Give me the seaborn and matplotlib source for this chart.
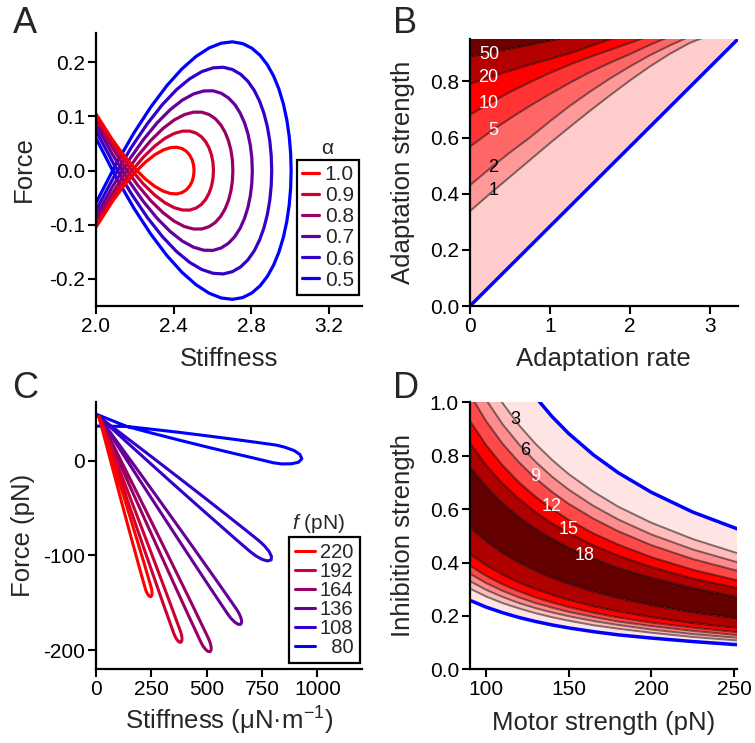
import matplotlib
matplotlib.use("Agg")
import matplotlib.pyplot as plt
import seaborn as sns
from matplotlib.lines import Line2D

sns.set_theme(style="ticks")
plt.rcParams["font.family"] = ["Liberation Sans", "DejaVu Sans"]
plt.rcParams["axes.unicode_minus"] = False
plt.rcParams["mathtext.fontset"] = "custom"
plt.rcParams["mathtext.rm"] = "Liberation Sans"
plt.rcParams["mathtext.it"] = "Liberation Sans:italic"

# ---------------- Panel A data (branch through the upper loop, tip -> left edge) ----------------
a_alpha = ["1.0", "0.9", "0.8", "0.7", "0.6", "0.5"]
a10_x = [2.505, 2.5025, 2.495, 2.4825, 2.465, 2.4425, 2.415, 2.3825, 2.345, 2.3025, 2.255, 2.2025, 2.145, 2.0825, 2.0]
a10_y = [0, 0.0102, 0.0200, 0.0286, 0.0357, 0.0407, 0.0431, 0.0423, 0.0378, 0.0291, 0.0158, -0.0029, -0.0273, -0.0580, -0.1045]
a09_x = [2.605, 2.6025, 2.595, 2.5825, 2.565, 2.5425, 2.515, 2.4825, 2.445, 2.4025, 2.355, 2.3025, 2.245, 2.1825, 2.115, 2.0425, 2.0]
a09_y = [0, 0.0146, 0.0287, 0.0417, 0.0532, 0.0626, 0.0693, 0.0729, 0.0728, 0.0685, 0.0595, 0.0452, 0.0252, -0.0011, -0.0343, -0.0748, -0.1007]
a08_x = [2.705, 2.7025, 2.695, 2.6825, 2.665, 2.6425, 2.615, 2.5825, 2.545, 2.5025, 2.455, 2.4025, 2.345, 2.2825, 2.215, 2.1425, 2.065, 2.0]
a08_y = [0, 0.0190, 0.0375, 0.0549, 0.0707, 0.0844, 0.0956, 0.1035, 0.1078, 0.1079, 0.1033, 0.0934, 0.0777, 0.0557, 0.0270, -0.0092, -0.0532, -0.0940]
a07_x = [2.805, 2.8025, 2.795, 2.7825, 2.765, 2.7425, 2.715, 2.6825, 2.645, 2.6025, 2.555, 2.5025, 2.445, 2.3825, 2.315, 2.2425, 2.165, 2.0825, 2.0]
a07_y = [0, 0.0234, 0.0462, 0.0680, 0.0882, 0.1063, 0.1218, 0.1341, 0.1428, 0.1473, 0.1470, 0.1415, 0.1302, 0.1126, 0.0882, 0.0564, 0.0168, -0.0312, -0.0848]
a06_x = [2.905, 2.9025, 2.895, 2.8825, 2.865, 2.8425, 2.815, 2.7825, 2.745, 2.7025, 2.655, 2.6025, 2.545, 2.4825, 2.415, 2.3425, 2.265, 2.1825, 2.095, 2.0]
a06_y = [0, 0.0277, 0.0550, 0.0811, 0.1057, 0.1282, 0.1481, 0.1648, 0.1778, 0.1866, 0.1908, 0.1896, 0.1827, 0.1695, 0.1495, 0.1221, 0.0868, 0.0431, -0.0095, -0.0733]
a05_x = [3.005, 3.0025, 2.995, 2.9825, 2.965, 2.9425, 2.915, 2.8825, 2.845, 2.8025, 2.755, 2.7025, 2.645, 2.5825, 2.515, 2.4425, 2.365, 2.2825, 2.195, 2.1025, 2.0]
a05_y = [0, 0.0321, 0.0637, 0.0942, 0.1232, 0.1501, 0.1743, 0.1954, 0.2128, 0.2260, 0.2345, 0.2377, 0.2352, 0.2264, 0.2107, 0.1877, 0.1568, 0.1175, 0.0693, 0.0116, -0.0597]

# ---------------- Panel B data (contour lines on a common x grid) ----------------
b_x = [0, 0.25, 0.5, 0.75, 1.0, 1.25, 1.5, 1.75, 2.0, 2.25, 2.5, 2.75, 3.0]
b_c1 = [0.338, 0.40, 0.46, 0.52, 0.58, 0.638, 0.695, 0.75, 0.803, 0.853, 0.898, 0.937, 0.965]
b_c2 = [0.43, 0.49, 0.547, 0.60, 0.658, 0.713, 0.763, 0.81, 0.853, 0.893, 0.928, 0.96, 0.99]
b_c5 = [0.568, 0.62, 0.668, 0.713, 0.755, 0.795, 0.833, 0.866, 0.897, 0.93, 0.96, 0.99, 1.02]
b_c10 = [0.681, 0.723, 0.762, 0.797, 0.83, 0.86, 0.887, 0.912, 0.937, 0.962, 0.985, 1.01, 1.03]
b_c20 = [0.791, 0.815, 0.838, 0.86, 0.88, 0.90, 0.925, 0.95, 0.97, 0.99, 1.01, 1.03, 1.05]
b_c50 = [0.888, 0.902, 0.916, 0.93, 0.945, 0.96, 0.975, 0.99, 1.0, 1.01, 1.02, 1.03, 1.04]
b_hopf_x = [0, 3.35]
b_hopf_y = [0, 0.95]
b_labels = ["1", "2", "5", "10", "20", "50"]
b_label_x = [0.29, 0.29, 0.29, 0.24, 0.23, 0.24]
b_label_y = [0.41, 0.493, 0.624, 0.723, 0.815, 0.897]

# ---------------- Panel C data (petal edges, start -> tip) ----------------
c_force = ["220", "192", "164", "136", "108", "  80"]
c80_a_x = [0, 139.4, 259.0, 379.1, 499.0, 618.8, 714.5, 813.5, 853.5, 894.7, 920.9, 929.5]
c80_a_y = [36.3, 35.9, 32.8, 29.6, 26.1, 22.5, 19.5, 16.3, 14.0, 10.5, 6.4, 1.8]
c80_b_x = [0, 139.4, 255.7, 372.8, 490.2, 607.6, 701.7, 802.0, 839.6, 883.7, 914.5, 929.5]
c80_b_y = [48.9, 35.9, 28.7, 21.7, 14.9, 8.3, 3.2, -2.4, -3.6, -3.4, -1.8, 1.8]
c108_a_x = [13.6, 134.6, 255.2, 375.5, 495.3, 590.8, 670.1, 738.0, 760.9, 781.7, 792.3, 791.1]
c108_a_y = [46.1, 24.7, 3.2, -18.4, -40.1, -57.6, -72.2, -84.9, -89.9, -95.8, -100.9, -104.7]
c108_b_x = [13.6, 125.7, 238.2, 351.2, 464.5, 555.6, 631.7, 697.5, 722.7, 751.6, 774.6, 791.1]
c108_b_y = [46.1, 22.2, -1.5, -25.2, -48.7, -67.4, -83.0, -96.2, -100.6, -104.3, -105.8, -104.7]
c136_a_x = [13.6, 113.7, 213.5, 312.9, 411.9, 490.8, 556.3, 634.1, 645.8, 655.0, 658.2, 653.6]
c136_a_y = [46.1, 13.9, -18.2, -50.5, -82.8, -108.8, -130.4, -156.5, -161.0, -166.0, -170.0, -172.6]
c136_b_x = [13.6, 105.5, 197.8, 290.5, 383.6, 458.3, 520.9, 596.8, 610.7, 627.2, 641.9, 653.6]
c136_b_y = [46.1, 12.6, -20.8, -54.1, -87.4, -113.9, -136.0, -162.4, -166.6, -170.4, -172.6, -172.6]
c164_a_x = [13.6, 92.6, 171.3, 249.6, 327.6, 389.6, 441.2, 508.1, 515.1, 519.8, 520.2, 515.1]
c164_a_y = [46.1, 9.4, -27.4, -64.2, -101.0, -130.5, -155.1, -187.6, -191.7, -196.1, -199.4, -201.5]
c164_b_x = [13.6, 85.0, 156.8, 229.0, 301.5, 359.8, 408.6, 473.7, 482.7, 494.2, 505.2, 515.1]
c164_b_y = [46.1, 8.5, -29.0, -66.5, -103.9, -133.8, -158.7, -191.4, -195.3, -198.9, -201.1, -201.5]
c192_a_x = [13.6, 72.2, 130.5, 188.6, 246.4, 292.3, 330.4, 381.4, 386.0, 388.4, 387.6, 382.6]
c192_a_y = [46.1, 10.7, -24.7, -60.1, -95.5, -123.9, -147.6, -179.9, -183.4, -187.2, -190.0, -191.6]
c192_b_x = [13.6, 65.7, 118.1, 170.8, 223.8, 266.4, 302.2, 351.7, 358.0, 366.3, 374.7, 382.6]
c192_b_y = [46.1, 10.2, -25.7, -61.6, -97.5, -126.1, -150.0, -182.4, -185.8, -189.0, -191.1, -191.6]
c220_a_x = [13.6, 51.5, 89.1, 126.5, 163.6, 193.1, 217.5, 249.0, 252.0, 253.1, 251.7, 247.1]
c220_a_y = [46.1, 17.9, -10.4, -38.7, -67.0, -89.6, -108.5, -133.5, -136.6, -139.8, -142.2, -143.5]
c220_b_x = [13.6, 45.7, 78.2, 110.9, 143.8, 170.4, 192.8, 222.9, 227.4, 233.7, 240.4, 247.1]
c220_b_y = [46.1, 17.5, -11.1, -39.7, -68.3, -91.1, -110.2, -135.2, -138.2, -141.1, -142.9, -143.5]

# ---------------- Panel D data (contour lines on a common x grid) ----------------
d_x = [90, 100, 110, 120, 130, 140, 150, 165, 180, 200, 225, 252]
d_blue_up = [1.472, 1.325, 1.205, 1.104, 1.019, 0.946, 0.883, 0.803, 0.736, 0.663, 0.589, 0.526]
d_u3 = [1.219, 1.097, 0.997, 0.914, 0.844, 0.784, 0.731, 0.665, 0.609, 0.549, 0.488, 0.435]
d_u6 = [1.122, 1.01, 0.918, 0.842, 0.777, 0.721, 0.673, 0.612, 0.561, 0.505, 0.449, 0.401]
d_u9 = [1.033, 0.93, 0.845, 0.775, 0.715, 0.664, 0.62, 0.564, 0.517, 0.465, 0.413, 0.369]
d_u12 = [0.933, 0.84, 0.764, 0.7, 0.646, 0.6, 0.56, 0.509, 0.467, 0.42, 0.373, 0.333]
d_u15 = [0.85, 0.765, 0.695, 0.638, 0.588, 0.546, 0.51, 0.464, 0.425, 0.383, 0.34, 0.304]
d_u18 = [0.759, 0.683, 0.621, 0.569, 0.525, 0.488, 0.455, 0.414, 0.379, 0.342, 0.304, 0.271]
d_l18 = [0.533, 0.48, 0.436, 0.4, 0.369, 0.343, 0.32, 0.291, 0.267, 0.24, 0.213, 0.19]
d_l15 = [0.433, 0.39, 0.355, 0.325, 0.3, 0.279, 0.26, 0.236, 0.217, 0.195, 0.173, 0.155]
d_l12 = [0.389, 0.35, 0.318, 0.292, 0.269, 0.25, 0.233, 0.212, 0.194, 0.175, 0.156, 0.139]
d_l9 = [0.359, 0.323, 0.294, 0.269, 0.248, 0.231, 0.215, 0.196, 0.179, 0.162, 0.144, 0.128]
d_l6 = [0.331, 0.298, 0.271, 0.248, 0.229, 0.213, 0.199, 0.181, 0.166, 0.149, 0.132, 0.118]
d_l3 = [0.303, 0.273, 0.248, 0.228, 0.21, 0.195, 0.182, 0.165, 0.152, 0.137, 0.121, 0.108]
d_blue_lo = [0.259, 0.233, 0.212, 0.194, 0.179, 0.166, 0.155, 0.141, 0.129, 0.117, 0.104, 0.092]
d_labels = ["3", "6", "9", "12", "15", "18"]
d_label_x = [117.5, 123.5, 129.5, 139.6, 149.7, 159.9]
d_label_y = [0.934, 0.821, 0.721, 0.609, 0.522, 0.428]

# ---------------- styling ----------------
W, H = 755, 743
fig = plt.figure(figsize=(W / 100, H / 100), dpi=100)
grad = ["#ff0000", "#cc0033", "#990066", "#660099", "#3300cc", "#0000ff"]
TICK_FS = 15
LAB_FS = 18.5


def make_ax(left, right, top, bottom):
    ax = fig.add_axes([left / W, 1 - bottom / H, (right - left) / W, (bottom - top) / H])
    for s in ["top", "right"]:
        ax.spines[s].set_visible(False)
    for s in ["left", "bottom"]:
        ax.spines[s].set_linewidth(1.6)
        ax.spines[s].set_color("black")
    ax.tick_params(direction="out", length=5.5, width=1.5, labelsize=TICK_FS,
                   colors="black", pad=2.5)
    ax.set_facecolor("none")
    return ax


def set_labels(ax, xl, yl, xlab_y, ylab_x):
    ax.set_xlabel(xl, fontsize=LAB_FS)
    ax.set_ylabel(yl, fontsize=LAB_FS)
    ax.xaxis.set_label_coords(0.5, xlab_y)
    ax.xaxis.label.set_va("baseline")
    ax.yaxis.set_label_coords(ylab_x, 0.5)
    ax.yaxis.label.set_va("center")
    ax.yaxis.label.set_ha("center")


# ---------------- Panel A ----------------
axA = make_ax(96, 362, 33, 306)
a_xs = [a10_x, a09_x, a08_x, a07_x, a06_x, a05_x]
a_ys = [a10_y, a09_y, a08_y, a07_y, a06_y, a05_y]
for i in reversed(range(6)):
    xs = a_xs[i][::-1] + a_xs[i]
    ys = [-v for v in a_ys[i]][::-1] + a_ys[i]
    sns.lineplot(x=xs, y=ys, sort=False, estimator=None, color=grad[i], lw=2.3, ax=axA)
axA.set_xlim(2.0, 3.37)
axA.set_ylim(-0.25, 0.254)
axA.set_xticks([2.0, 2.4, 2.8, 3.2])
axA.set_xticklabels(["2.0", "2.4", "2.8", "3.2"])
axA.set_yticks([-0.2, -0.1, 0.0, 0.1, 0.2])
axA.set_yticklabels(["-0.2", "-0.1", "0.0", "0.1", "0.2"])
set_labels(axA, "Stiffness", "Force", -0.218, -0.27)
hA = [Line2D([], [], color=grad[i], lw=2.3) for i in range(6)]
legA = axA.legend(hA, a_alpha, loc="upper left", bbox_to_anchor=(296.7 / W, 1 - 160 / H),
                  bbox_transform=fig.transFigure, fontsize=15, handlelength=0.8,
                  handletextpad=0.3, labelspacing=0.1, borderpad=0.25, borderaxespad=0,
                  fancybox=False, edgecolor="black", framealpha=1)
legA.get_frame().set_linewidth(1.6)
fig.text(327.5 / W, 1 - 149 / H, "α", fontsize=15, ha="center", va="center")

# ---------------- Panel B ----------------
axB = make_ax(470, 737.7, 39.3, 306)
b_lines = [b_c1, b_c2, b_c5, b_c10, b_c20, b_c50]
b_cols = ["#ffcccc", "#ff9999", "#ff6666", "#ff3333", "#ff0000", "#b40000", "#6e0000"]
axB.fill(b_hopf_x + b_x[::-1], b_hopf_y + b_c1[::-1], color=b_cols[0], lw=0)
for i in range(5):
    axB.fill(b_x + b_x[::-1], b_lines[i] + b_lines[i + 1][::-1], color=b_cols[i + 1], lw=0)
axB.fill(b_x + [3.35, 0], b_c50 + [1.2, 1.2], color=b_cols[6], lw=0)
for ln in b_lines:
    sns.lineplot(x=b_x, y=ln, sort=False, estimator=None, color="black", alpha=0.5, lw=1.4, ax=axB)
sns.lineplot(x=b_hopf_x, y=b_hopf_y, sort=False, estimator=None, color="#0000ff", lw=2.5, ax=axB)
for t, x, y in zip(b_labels, b_label_x, b_label_y):
    axB.text(x, y, t, fontsize=13, ha="center", va="center",
             color="black" if t in ("1", "2") else "white")
axB.set_xlim(0, 3.35)
axB.set_ylim(0, 0.95)
axB.set_xticks([0, 1, 2, 3])
axB.set_xticklabels(["0", "1", "2", "3"])
axB.set_yticks([0, 0.2, 0.4, 0.6, 0.8])
axB.set_yticklabels(["0.0", "0.2", "0.4", "0.6", "0.8"])
set_labels(axB, "Adaptation rate", "Adaptation strength", -0.224, -0.25)

# ---------------- Panel C ----------------
axC = make_ax(96, 361.7, 401.7, 669.3)
c_a_x = [c220_a_x, c192_a_x, c164_a_x, c136_a_x, c108_a_x, c80_a_x]
c_a_y = [c220_a_y, c192_a_y, c164_a_y, c136_a_y, c108_a_y, c80_a_y]
c_b_x = [c220_b_x, c192_b_x, c164_b_x, c136_b_x, c108_b_x, c80_b_x]
c_b_y = [c220_b_y, c192_b_y, c164_b_y, c136_b_y, c108_b_y, c80_b_y]
for i in reversed(range(6)):
    xs = c_a_x[i] + c_b_x[i][::-1]
    ys = c_a_y[i] + c_b_y[i][::-1]
    sns.lineplot(x=xs, y=ys, sort=False, estimator=None, color=grad[i], lw=2.2, ax=axC)
axC.set_xlim(0, 1200)
axC.set_ylim(-220, 62)
axC.set_xticks([0, 250, 500, 750, 1000])
axC.set_xticklabels(["0", "250", "500", "750", "1000"])
axC.set_yticks([-200, -100, 0])
axC.set_yticklabels(["-200", "-100", "0"])
set_labels(axC, "Stiffness (μN·m$^{-1}$)", "Force (pN)", -0.227, -0.275)
hC = [Line2D([], [], color=grad[i], lw=2.2) for i in range(6)]
legC = axC.legend(hC, c_force, loc="upper left", bbox_to_anchor=(288.7 / W, 1 - 536.7 / H),
                  bbox_transform=fig.transFigure, fontsize=14.5, handlelength=1.0,
                  handletextpad=0.25, labelspacing=0.0, borderpad=0.3, borderaxespad=0,
                  fancybox=False, edgecolor="black", framealpha=1)
legC.get_frame().set_linewidth(1.6)
fig.text(318.3 / W, 1 - 523.3 / H, "$f$ (pN)", fontsize=15, ha="center", va="center")

# ---------------- Panel D ----------------
axD = make_ax(470, 737.3, 402.3, 669.3)
d_lines = [d_blue_up, d_u3, d_u6, d_u9, d_u12, d_u15, d_u18, d_l18, d_l15, d_l12, d_l9, d_l6, d_l3, d_blue_lo]
d_cols = ["#ffe4e4", "#ffbcbc", "#ff8c8c", "#ff4848", "#ff0000", "#b00000", "#640000",
          "#b00000", "#ff0000", "#ff4848", "#ff8c8c", "#ffbcbc", "#ffe4e4"]
for i in range(13):
    axD.fill(d_x + d_x[::-1], d_lines[i] + d_lines[i + 1][::-1], color=d_cols[i], lw=0)
for ln in d_lines[1:-1]:
    sns.lineplot(x=d_x, y=ln, sort=False, estimator=None, color="black", alpha=0.5, lw=1.4, ax=axD)
for ln in (d_blue_up, d_blue_lo):
    sns.lineplot(x=d_x, y=ln, sort=False, estimator=None, color="#0000ff", lw=2.5, ax=axD)
for t, x, y in zip(d_labels, d_label_x, d_label_y):
    axD.text(x, y, t, fontsize=13, ha="center", va="center",
             color="black" if t in ("3", "6") else "white")
axD.set_xlim(90.3, 252)
axD.set_ylim(0, 1.0)
axD.set_xticks([100, 150, 200, 250])
axD.set_xticklabels(["100", "150", "200", "250"])
axD.set_yticks([0, 0.2, 0.4, 0.6, 0.8, 1.0])
axD.set_yticklabels(["0.0", "0.2", "0.4", "0.6", "0.8", "1.0"])
set_labels(axD, "Motor strength (pN)", "Inhibition strength", -0.227, -0.251)

# ---------------- panel letters ----------------
for t, x, y in [("A", 13, 33), ("B", 393, 33), ("C", 12, 398), ("D", 393, 398)]:
    fig.text(x / W, 1 - y / H, t, fontsize=26, ha="left", va="baseline")

fig.savefig("out.png", dpi=100)
